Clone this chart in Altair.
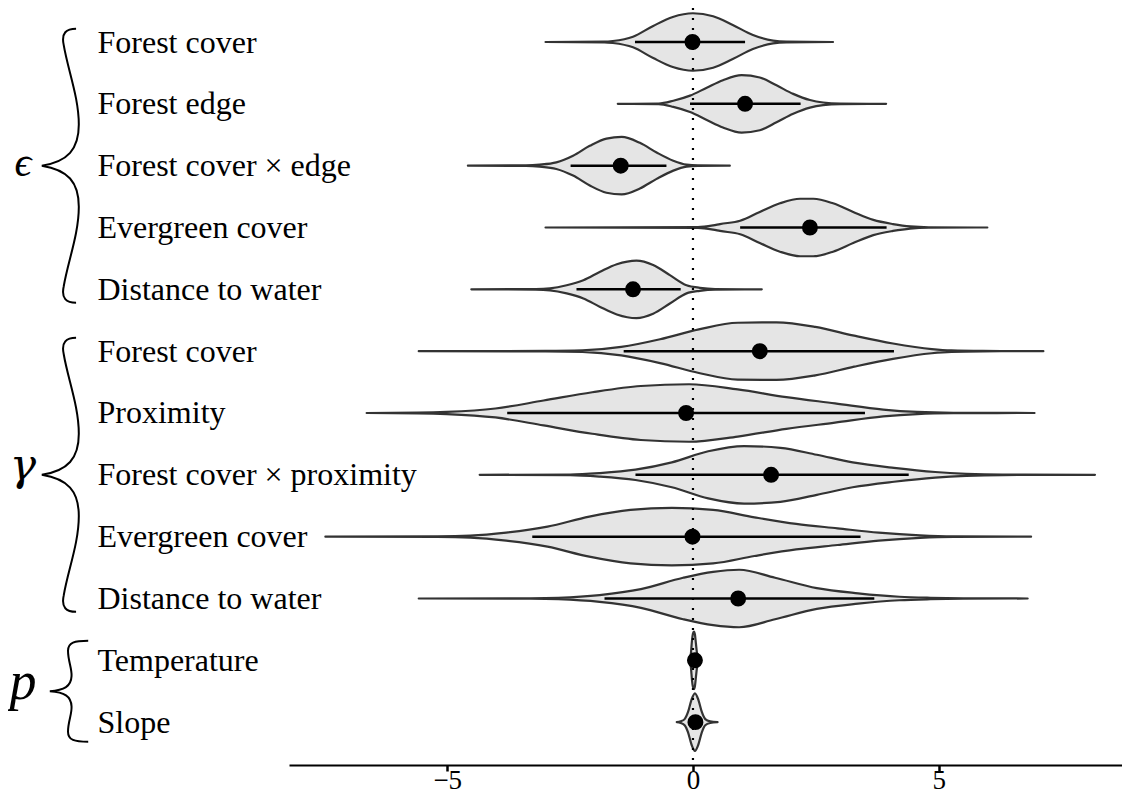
import json
import altair as alt
import pandas as pd

# ---------------- data ----------------
labels = ["Forest cover", "Forest edge", "Forest cover × edge", "Evergreen cover",
          "Distance to water", "Forest cover", "Proximity", "Forest cover × proximity",
          "Evergreen cover", "Distance to water", "Temperature", "Slope"]
medians = [-0.01, 1.06, -1.47, 2.38, -1.22, 1.36, -0.14, 1.59, -0.01, 0.92, 0.04, 0.05]
ci_lo = [-1.18, -0.06, -2.49, 0.96, -2.37, -1.41, -3.78, -1.17, -3.27, -1.80, -0.02, -0.10]
ci_hi = [1.06, 2.19, -0.54, 3.94, -0.25, 4.09, 3.50, 4.39, 3.41, 3.69, 0.08, 0.20]

violin_x = [
    [-3.0, -1.8, -1.63, -1.22, -0.81, -0.41, 0.0, 0.41, 0.81, 1.22, 1.63, 1.9, 2.85],
    [-1.53, -0.7, -0.4, -0.06, 0.28, 0.61, 0.99, 1.36, 1.70, 2.04, 2.38, 2.65, 3.0, 3.93],
    [-4.58, -3.4, -3.12, -2.78, -2.44, -2.1, -1.76, -1.45, -1.08, -0.74, -0.4, -0.13, 0.1, 0.75],
    [-3.0, 0.1, 0.41, 0.55, 0.96, 1.36, 1.77, 2.18, 2.45, 2.85, 3.26, 3.67, 4.07, 4.42, 4.8, 5.99],
    [-4.51, -3.2, -2.91, -2.57, -2.23, -1.89, -1.55, -1.15, -0.81, -0.47, -0.13, 0.14, 0.45, 1.40],
    [-5.58, -3.0, -2.25, -1.46, -0.67, 0.12, 0.91, 1.70, 2.49, 3.28, 4.07, 4.86, 5.26, 5.9, 7.13],
    [-6.64, -5.6, -5.01, -4.02, -3.04, -2.05, -1.06, -0.08, 0.91, 1.90, 2.89, 3.87, 4.56, 5.3, 6.95],
    [-4.34, -2.5, -1.9, -1.17, -0.43, 0.31, 1.04, 1.78, 2.52, 3.25, 4.09, 4.93, 5.56, 6.3, 8.18],
    [-7.48, -5.2, -4.53, -3.8, -2.96, -2.11, -1.27, -0.43, 0.41, 1.25, 2.10, 2.94, 3.78, 4.62, 5.3, 6.88],
    [-5.58, -3.3, -2.74, -1.9, -1.06, -0.2, 0.41, 0.94, 1.67, 2.52, 3.36, 4.2, 4.83, 5.5, 6.81],
    [-0.06, -0.04, -0.02, 0.0, 0.02, 0.04, 0.06, 0.08, 0.10, 0.12],
    [-0.33, -0.25, -0.17, -0.10, -0.03, 0.04, 0.11, 0.18, 0.25, 0.35, 0.50],
]
violin_density = [
    [0, 0.3, 1, 5.3, 16, 25, 28.7, 25.7, 17, 7, 1.3, 0.3, 0],
    [0, 0.3, 3, 8, 15.7, 23, 28, 25.7, 18, 9.7, 3.7, 1.3, 0.3, 0],
    [0, 0.3, 1, 3.3, 10, 20, 27.3, 29, 23, 13.3, 5, 1, 0.2, 0],
    [0, 0.3, 2, 3.3, 6.5, 15, 23.3, 27.7, 27.7, 23.3, 15, 7.3, 3.3, 1, 0.2, 0],
    [0, 0.3, 1, 4, 9, 17.3, 24.7, 28.3, 24, 14, 4, 1.5, 0.3, 0],
    [0, 0.2, 0.7, 4, 11.3, 20.7, 27, 27.3, 23, 14.7, 7.3, 2, 0.7, 0.2, 0],
    [0, 0.3, 1, 4.3, 12, 20, 26, 27.7, 22.7, 15.3, 9.3, 3.3, 1, 0.2, 0],
    [0, 0.3, 1.7, 5, 12, 22.7, 27.7, 26, 19.3, 12, 6.7, 2.7, 1, 0.2, 0],
    [0, 0.3, 1, 4, 10, 20, 26.7, 28.7, 26.7, 19.3, 12.7, 8.3, 4, 1.3, 0.3, 0],
    [0, 0.2, 0.7, 3.3, 9, 20, 25.7, 27.7, 20, 10, 5, 1.7, 0.7, 0.2, 0],
    [0, 8, 20, 27, 29, 26, 17, 8, 3, 0],
    [0, 0.8, 3, 10, 22, 28.3, 22, 10, 3, 0.8, 0],
]

group_symbols = ["ϵ", "γ", "p"]
group_centers = [2, 7, 10.5]
zero_line = [0]
x_ticks = [-5, 0, 5]

# ---------------- styling ----------------
HALF = 0.465          # max half-width of a violin in row units (scale = "width")
SERIF = "Liberation Serif"
BIG_BRACE = ("M0.11,-1 C0.04,-1 0.0,-0.97 0.02,-0.88 C0.05,-0.7 0.13,-0.5 0.13,-0.3 "
             "C0.13,-0.12 0.05,-0.03 -0.14,0 C0.05,0.03 0.13,0.12 0.13,0.3 "
             "C0.13,0.5 0.05,0.7 0.02,0.88 C0.0,0.97 0.04,1 0.11,1")
SMALL_BRACE = ("M0.42,-1 C0.15,-1 0.02,-0.97 0.02,-0.8 C0.02,-0.6 0.1,-0.45 0.09,-0.3 "
               "C0.08,-0.1 -0.05,-0.02 -0.34,0 C-0.05,0.02 0.08,0.1 0.09,0.3 "
               "C0.1,0.45 0.02,0.6 0.02,0.8 C0.02,0.97 0.15,1 0.42,1")

# ---------------- tables ----------------
rows = list(range(len(labels)))
vrows = []
for i, (xs, ds) in enumerate(zip(violin_x, violin_density)):
    m = max(ds)
    for xv, dv in zip(xs, ds):
        h = dv / m * HALF
        vrows.append({"row": i, "x": xv, "lo": i - h, "hi": i + h})
violins = pd.DataFrame(vrows)
summ = pd.DataFrame({"row": rows, "med": medians, "lo": ci_lo, "hi": ci_hi})
zero_df = pd.DataFrame({"z": zero_line})
groups = pd.DataFrame({"sym": group_symbols, "center": group_centers})

xs_scale = alt.Scale(domain=[-8.22, 8.73], nice=False, zero=False)
ys_scale = alt.Scale(domain=[-0.55, 11.693], nice=False, zero=False, reverse=True)

x_axis = alt.Axis(values=x_ticks, title=None, grid=False, domainColor="black", domainWidth=2,
                  tickColor="black", tickWidth=2.5, tickSize=6, labelFont=SERIF,
                  labelFontSize=27, labelColor="black", labelPadding=-4, labelFlush=False)
y_axis = alt.Axis(values=rows, title=None, grid=False, domain=False, ticks=False, tickSize=0,
                  labelExpr=json.dumps(labels, ensure_ascii=False) + "[datum.value]",
                  labelAlign="left", labelBaseline="middle", labelPadding=192,
                  labelFont=SERIF, labelFontSize=32, labelColor="black",
                  labelLimit=0, labelOverlap=False, labelFlush=False)

X = lambda f: alt.X(f, type="quantitative", scale=xs_scale, axis=x_axis)
Y = lambda f: alt.Y(f, type="quantitative", scale=ys_scale, axis=y_axis)

violin = alt.Chart(violins).mark_area(
    interpolate="monotone", orient="vertical", fill="#e5e5e5", stroke="#333333",
    strokeWidth=2.2, strokeJoin="round", opacity=1
).encode(x=X("x"), y=Y("lo"), y2="hi", detail="row:N")

ci = alt.Chart(summ).mark_rule(color="black", strokeWidth=2.5).encode(
    x=X("lo"), x2="hi", y=Y("row"))

zero = alt.Chart(zero_df).mark_rule(color="black", strokeWidth=2.2, strokeDash=[2, 8]).encode(
    x=X("z"))

dots = alt.Chart(summ).mark_circle(size=254, color="black", opacity=1).encode(
    x=X("med"), y=Y("row"))

big_braces = alt.Chart(groups.iloc[:2]).mark_point(
    shape=BIG_BRACE, size=274 ** 2, filled=False, stroke="black", strokeWidth=2, opacity=1
).encode(x=alt.value(-228), y=Y("center"))
small_brace = alt.Chart(groups.iloc[2:]).mark_point(
    shape=SMALL_BRACE, size=101 ** 2, filled=False, stroke="black", strokeWidth=2, opacity=1
).encode(x=alt.value(-222), y=Y("center"))

letter_style = {"ϵ": (42, 10, SERIF + ", DejaVu Serif"),
                "γ": (44, 5, "DejaVu Serif"),
                "p": (54, 8, SERIF + ", DejaVu Serif")}
letters = []
for s in group_symbols:
    fs, dy, fnt = letter_style[s]
    letters.append(
        alt.Chart(groups[groups.sym == s]).mark_text(
            font=fnt, fontStyle="italic", fontSize=fs,
            align="center", baseline="alphabetic", dy=dy, color="black"
        ).encode(x=alt.value(-266), y=Y("center"), text="sym:N")
    )

chart = alt.layer(violin, ci, zero, dots, big_braces, small_brace, *letters).properties(
    width=833, height=757,
    padding={"left": 281, "top": 0, "right": 0, "bottom": 30},
    autosize=alt.AutoSizeParams(type="none"),
).configure_view(stroke=None)

chart.save("out.html", embed_options={"renderer": "svg", "actions": False})
